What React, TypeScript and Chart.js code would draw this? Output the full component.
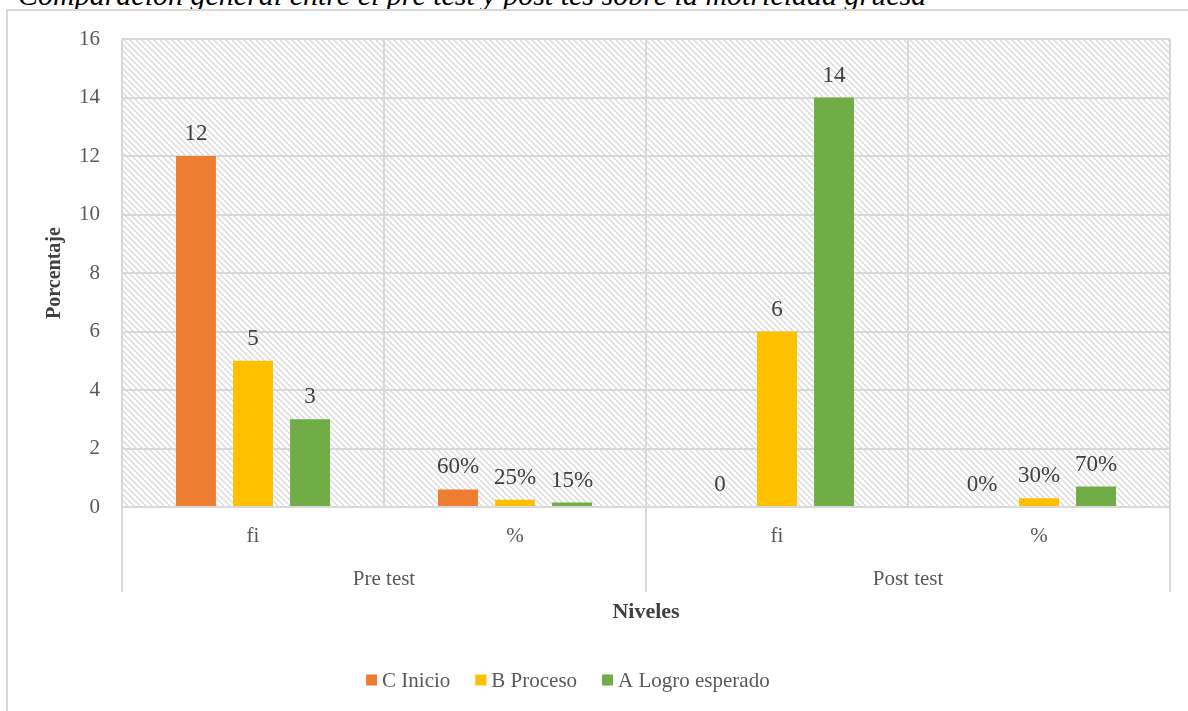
import React, { useEffect, useRef } from "react";
import { Chart, registerables } from "chart.js";

Chart.register(...registerables);

const categories = ["fi", "%", "fi", "%"];
const groups = ["Pre test", "Post test"];
const seriesNames = ["C Inicio", "B Proceso", "A Logro esperado"];
const inicioValues = [12, 0.6, 0, 0];
const procesoValues = [5, 0.25, 6, 0.3];
const logroValues = [3, 0.15, 14, 0.7];
const inicioLabels = ["12", "60%", "0", "0%"];
const procesoLabels = ["5", "25%", "6", "30%"];
const logroLabels = ["3", "15%", "14", "70%"];
const seriesColors = ["#ED7D31", "#FFC000", "#70AD47"];
const yMin = 0;
const yMax = 16;
const yStep = 2;
const titleText = "Comparación general entre el pre test y post tes sobre la motricidad gruesa";
const yTitle = "Porcentaje";
const xTitle = "Niveles";

const FONT = "'Liberation Serif', 'Times New Roman', serif";

function makePattern(): CanvasPattern | string {
  const c = document.createElement("canvas");
  c.width = 6;
  c.height = 6;
  const g = c.getContext("2d");
  if (!g) return "#fff";
  g.fillStyle = "#ffffff";
  g.fillRect(0, 0, 6, 6);
  g.strokeStyle = "#d8d8d8";
  g.lineWidth = 1.3;
  g.beginPath();
  g.moveTo(-1, -1);
  g.lineTo(7, 7);
  g.moveTo(-1, 5);
  g.lineTo(1, 7);
  g.moveTo(5, -1);
  g.lineTo(7, 1);
  g.stroke();
  const p = g.createPattern(c, "repeat");
  return p || "#fff";
}

const backgroundPlugin = {
  id: "hatchBg",
  beforeDraw(chart: any) {
    const { ctx, chartArea } = chart;
    ctx.save();
    ctx.fillStyle = makePattern();
    ctx.fillRect(chartArea.left, chartArea.top, chartArea.right - chartArea.left, chartArea.bottom - chartArea.top);
    ctx.restore();
  },
};

const valueLabelPlugin = {
  id: "valueLabels",
  afterDatasetsDraw(chart: any) {
    const ctx = chart.ctx;
    ctx.save();
    ctx.font = `23px ${FONT}`;
    ctx.fillStyle = "#404040";
    ctx.textAlign = "center";
    ctx.textBaseline = "alphabetic";
    chart.data.datasets.forEach((ds: any, i: number) => {
      const meta = chart.getDatasetMeta(i);
      meta.data.forEach((bar: any, j: number) => {
        ctx.fillText(ds.valueLabels[j], bar.x, bar.y - 16);
      });
    });
    ctx.restore();
  },
};

const groupAxisPlugin = {
  id: "groupAxis",
  afterDraw(chart: any) {
    const ctx = chart.ctx;
    const x = chart.scales.x;
    const n = categories.length;
    const per = n / groups.length;
    const w = (x.right - x.left) / n;
    const top = chart.chartArea.bottom;
    ctx.save();
    ctx.strokeStyle = "#d9d9d9";
    ctx.lineWidth = 2;
    for (let g = 0; g <= groups.length; g++) {
      const px = Math.round(x.left + g * per * w);
      ctx.beginPath();
      ctx.moveTo(px, top);
      ctx.lineTo(px, top + 85);
      ctx.stroke();
    }
    ctx.font = `21px ${FONT}`;
    ctx.fillStyle = "#595959";
    ctx.textAlign = "center";
    ctx.textBaseline = "middle";
    groups.forEach((name, g) => {
      const cx = x.left + (g * per + per / 2) * w;
      ctx.fillText(name, cx, top + 72);
    });

    // legend
    ctx.font = `21px ${FONT}`;
    ctx.textBaseline = "middle";
    ctx.textAlign = "left";
    const box = 11;
    const gapText = 5;
    const gapItem = 25;
    const widths = seriesNames.map((s) => box + gapText + ctx.measureText(s).width);
    const total = widths.reduce((a, b) => a + b, 0) + gapItem * (widths.length - 1);
    let lx = chart.width * 0.478 - total / 2;
    const ly = 680;
    seriesNames.forEach((s, i) => {
      ctx.fillStyle = seriesColors[i];
      ctx.fillRect(lx, ly - box / 2, box, box);
      ctx.fillStyle = "#595959";
      ctx.fillText(s, lx + box + gapText, ly + 1);
      lx += widths[i] + gapItem;
    });
    ctx.restore();
  },
};

export default function App() {
  const ref = useRef<HTMLCanvasElement | null>(null);

  useEffect(() => {
    if (!ref.current) return;
    const valueSets = [inicioValues, procesoValues, logroValues];
    const labelSets = [inicioLabels, procesoLabels, logroLabels];
    const chart = new Chart(ref.current, {
      type: "bar",
      data: {
        labels: categories,
        datasets: seriesNames.map((name, i) => ({
          label: name,
          data: valueSets[i],
          backgroundColor: seriesColors[i],
          borderWidth: 0,
          categoryPercentage: 0.653,
          barPercentage: 0.7,
          valueLabels: labelSets[i],
        })) as any,
      },
      options: {
        animation: false,
        responsive: true,
        maintainAspectRatio: false,
        layout: { padding: { left: 8, right: 18, top: 39, bottom: 51 } },
        plugins: {
          legend: { display: false },
          tooltip: { enabled: false },
          title: { display: false },
        },
        scales: {
          x: {
            type: "category",
            offset: true,
            grid: {
              offset: true,
              color: "#d9d9d9",
              lineWidth: 2,
              drawTicks: false,
            },
            border: { display: true, color: "#d9d9d9", width: 2 },
            ticks: {
              padding: 17,
              color: "#595959",
              font: { family: FONT, size: 21 },
            },
            title: {
              display: true,
              text: xTitle,
              color: "#404040",
              font: { family: FONT, size: 22, weight: "bold" },
              padding: { top: 0, bottom: 34 },
            },
            afterFit(scale: any) {
              scale.height = 153;
            },
          },
          y: {
            min: yMin,
            max: yMax,
            ticks: {
              stepSize: yStep,
              padding: 22,
              color: "#595959",
              font: { family: FONT, size: 21 },
            },
            grid: { color: "#d9d9d9", lineWidth: 2, drawTicks: false },
            border: { display: false },
            title: {
              display: true,
              text: yTitle,
              color: "#404040",
              font: { family: FONT, size: 20, weight: "bold" },
              padding: { top: 35, bottom: 0 },
            },
            afterFit(scale: any) {
              scale.width = 114;
            },
          },
        },
      },
      plugins: [backgroundPlugin, valueLabelPlugin, groupAxisPlugin],
    });
    return () => chart.destroy();
  }, []);

  return (
    <div style={{ position: "absolute", left: 0, top: 0, width: 1188, height: 711, overflow: "hidden", background: "#fff" }}>
      <div
        style={{
          position: "absolute",
          left: 18,
          top: -20,
          fontFamily: FONT,
          fontStyle: "italic",
          fontSize: 30,
          lineHeight: "30px",
          whiteSpace: "nowrap",
          color: "#000",
        }}
      >
        {titleText}
      </div>
      <div
        style={{
          position: "absolute",
          left: 6,
          top: 9,
          width: 1300,
          height: 800,
          borderLeft: "2px solid #d9d9d9",
          borderTop: "2px solid #d9d9d9",
        }}
      />
      <div style={{ position: "absolute", left: 0, top: 0, width: 1188, height: 711 }}>
        <canvas ref={ref} />
      </div>
    </div>
  );
}
